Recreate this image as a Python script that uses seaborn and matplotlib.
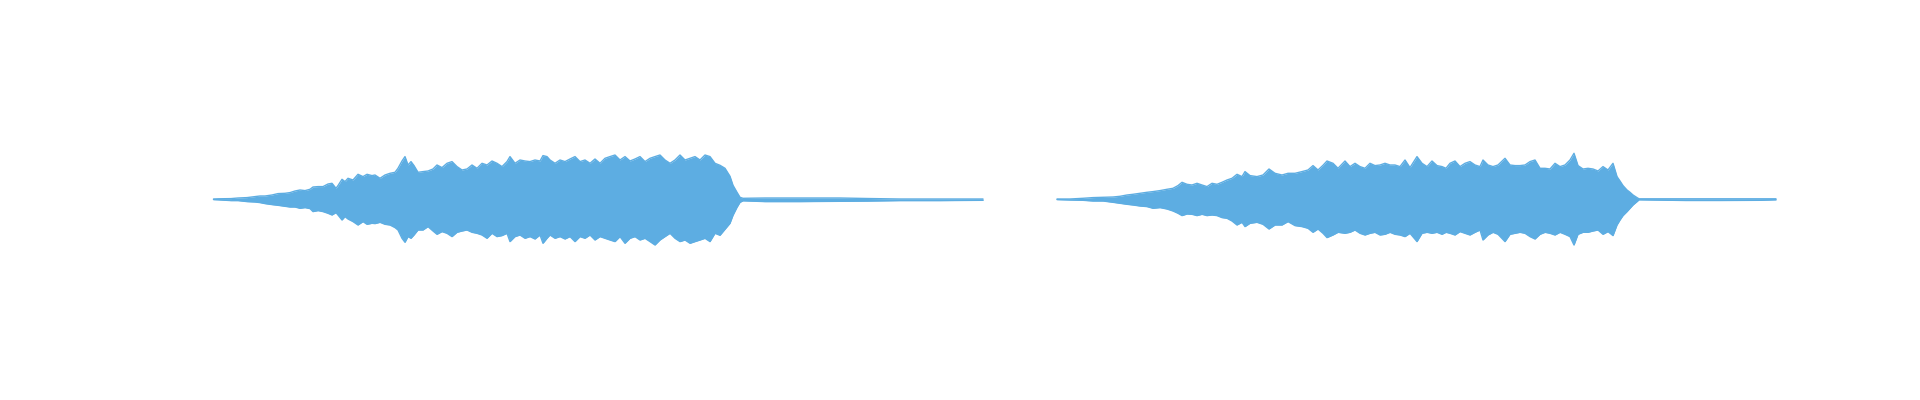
import numpy as np
import pandas as pd
import matplotlib
matplotlib.use("Agg")
import matplotlib.pyplot as plt
import seaborn as sns

# ---- data: waveform envelopes (time in px-units, amplitude in px-units) ----
left_t = [213.5, 218, 231, 238, 247, 255, 260, 265, 272, 278, 285, 290, 295, 300, 305, 310, 313, 318,
          323, 328, 332, 336, 338, 342, 345, 348, 353, 358, 363, 367, 372, 375, 380, 385, 390, 395,
          398, 402, 405, 408, 411, 414, 418, 423, 428, 433, 437, 442, 447, 452, 457, 462, 467, 472,
          477, 482, 487, 492, 497, 502, 507, 510, 515, 520, 525, 530, 535, 540, 543, 547, 550, 555,
          560, 565, 570, 575, 580, 585, 590, 595, 600, 605, 610, 615, 620, 625, 630, 635, 640, 645,
          650, 655, 660, 665, 670, 675, 680, 685, 690, 695, 700, 705, 710, 715, 720, 725, 730, 733,
          737, 740, 743, 765, 800, 840, 867, 900, 940, 983]
left_up = [0.3, 0.5, 0.7, 1.3, 1.7, 2.7, 3.3, 3.3, 4.3, 5.7, 6.0, 6.7, 8.3, 9.3, 8.7, 10.0, 12.3, 12.7,
           12.7, 15.3, 16.0, 11.0, 13.7, 20.0, 17.7, 21.0, 19.3, 25.0, 22.7, 25.0, 23.7, 24.3, 21.0, 24.3, 26.0, 27.0,
           31.0, 38.3, 42.7, 34.3, 37.7, 33.7, 27.0, 27.7, 28.3, 30.3, 34.3, 31.7, 36.0, 37.7, 32.7, 29.3, 30.3, 34.3,
           31.0, 36.0, 34.3, 38.3, 36.0, 32.7, 37.7, 42.7, 36.0, 39.3, 38.3, 37.7, 39.3, 38.3, 43.7, 42.7, 39.3, 36.0,
           39.3, 37.7, 40.3, 42.7, 37.7, 39.3, 36.0, 40.3, 36.0, 41.0, 42.7, 44.3, 39.3, 42.7, 38.3, 40.3, 42.7, 37.7,
           41.0, 42.7, 44.3, 39.3, 36.0, 39.3, 44.3, 39.3, 41.0, 42.7, 39.3, 44.3, 42.7, 36.0, 34.0, 31.0, 23.0, 14.0,
           7.0, 2.0, 1.0, 1.3, 1.3, 1.3, 0.8, 0.3, 0.3, 0.3]
left_dn = [0.3, 0.5, 1.3, 1.3, 2.3, 2.7, 3.3, 4.3, 5.3, 6.0, 7.0, 7.7, 7.7, 9.0, 8.3, 9.3, 12.3, 11.3,
           12.3, 14.0, 15.7, 13.3, 15.7, 20.7, 17.3, 19.7, 22.3, 25.7, 22.3, 25.0, 24.0, 24.3, 23.0, 25.0, 25.7, 28.3,
           30.7, 39.0, 43.0, 37.3, 39.0, 35.7, 30.7, 30.7, 27.3, 31.7, 35.0, 32.3, 34.0, 37.3, 33.0, 31.7, 30.7, 33.0,
           34.0, 35.7, 39.0, 34.0, 37.3, 36.3, 34.0, 42.3, 37.3, 35.7, 39.0, 37.3, 39.7, 35.7, 44.0, 39.0, 35.7, 39.0,
           37.3, 39.7, 37.3, 42.3, 37.3, 39.0, 35.7, 40.7, 37.3, 39.0, 40.7, 42.3, 37.3, 44.0, 39.0, 37.3, 40.7, 39.0,
           42.3, 45.7, 40.7, 37.3, 34.0, 39.0, 42.3, 40.7, 44.0, 42.3, 40.7, 39.0, 42.3, 34.0, 36.0, 30.0, 24.0, 16.0,
           8.0, 3.0, 1.5, 2.3, 2.3, 2.0, 1.8, 1.3, 1.3, 1.0]

right_t = [1057, 1070, 1083, 1093, 1103, 1113, 1120, 1127, 1133, 1140, 1147, 1153, 1160, 1167, 1173, 1178,
           1182, 1187, 1192, 1197, 1202, 1207, 1212, 1217, 1222, 1227, 1232, 1237, 1242, 1245, 1250, 1257,
           1263, 1269, 1275, 1282, 1288, 1295, 1302, 1308, 1313, 1318, 1323, 1327, 1333, 1338, 1345, 1350,
           1355, 1360, 1365, 1370, 1375, 1380, 1385, 1390, 1395, 1400, 1405, 1410, 1417, 1422, 1427, 1432,
           1437, 1442, 1446, 1450, 1455, 1460, 1465, 1470, 1475, 1480, 1483, 1488, 1493, 1498, 1505, 1510,
           1515, 1520, 1525, 1530, 1535, 1540, 1545, 1550, 1555, 1560, 1565, 1570, 1574, 1578, 1583, 1588,
           1593, 1598, 1603, 1608, 1613, 1617, 1620, 1623, 1627, 1630, 1633, 1637, 1639, 1686, 1720, 1760, 1776]
right_up = [0.3, 0.3, 1.0, 1.7, 2.0, 2.3, 3.0, 4.3, 5.0, 6.0, 7.0, 7.7, 8.7, 10.0, 11.0, 13.7,
            17.0, 15.0, 14.3, 16.0, 14.3, 12.7, 16.0, 15.0, 17.0, 19.3, 21.0, 25.0, 22.7, 27.7, 23.7, 22.7,
            24.3, 30.3, 26.0, 24.3, 26.0, 26.0, 27.7, 29.3, 33.7, 29.3, 34.0, 38.3, 36.0, 31.0, 38.3, 32.7,
            36.0, 32.7, 31.0, 36.0, 33.7, 34.3, 36.0, 34.3, 34.3, 32.7, 39.3, 31.7, 42.7, 36.0, 32.7, 38.3,
            33.7, 32.7, 31.0, 36.0, 38.3, 32.7, 36.0, 37.7, 34.3, 32.7, 39.3, 34.3, 32.7, 34.3, 41.0, 34.3,
            33.7, 33.7, 34.3, 37.7, 39.3, 31.0, 31.0, 30.3, 36.0, 32.7, 34.3, 39.3, 46.0, 33.7, 30.3, 31.0,
            30.3, 28.3, 32.7, 29.3, 36.0, 22.7, 18.3, 13.7, 9.3, 7.0, 4.3, 1.7, 0.5, 0.5, 0.5, 0.5, 0.5]
right_dn = [0.3, 0.7, 1.0, 1.7, 1.7, 3.0, 4.0, 5.0, 5.7, 6.7, 7.3, 9.0, 8.3, 9.7, 11.7, 14.0,
            16.3, 14.7, 15.0, 16.3, 15.0, 16.3, 15.7, 16.3, 18.3, 19.0, 21.7, 25.7, 23.0, 27.3, 24.0, 23.0,
            25.0, 29.7, 25.7, 25.7, 22.3, 26.3, 27.3, 29.0, 33.0, 29.7, 34.0, 38.3, 35.7, 33.0, 34.0, 33.0,
            30.7, 34.0, 35.7, 34.0, 33.0, 35.7, 35.0, 33.0, 35.0, 35.7, 37.3, 34.0, 42.3, 34.0, 33.0, 34.0,
            33.0, 35.0, 33.0, 34.0, 35.7, 32.3, 34.0, 35.7, 33.0, 30.7, 40.7, 35.7, 33.0, 35.0, 42.3, 35.0,
            34.0, 33.0, 34.0, 37.3, 39.7, 35.0, 33.0, 34.0, 35.7, 33.0, 35.0, 37.3, 45.7, 35.0, 33.0, 33.0,
            31.7, 30.7, 35.0, 32.3, 36.3, 25.7, 20.7, 16.3, 12.3, 9.0, 5.7, 2.3, 0.5, 1.2, 1.2, 1.0, 0.5]

COLOR = "#5DADE2"

sns.set_theme(style="white")
plt.rcParams["font.family"] = ["DejaVu Sans"]

fig = plt.figure(figsize=(19.2, 4.0), dpi=100)
fig.patch.set_facecolor("white")
ax = fig.add_axes([0.0, 0.0, 1.0, 1.0])

for t, up, dn in [(left_t, left_up, left_dn), (right_t, right_up, right_dn)]:
    df = pd.DataFrame({"t": t, "up": up, "dn": [-v for v in dn]})
    ax.fill_between(df["t"].to_numpy(), df["dn"].to_numpy(), df["up"].to_numpy(),
                    color=COLOR, linewidth=0)
    sns.lineplot(data=df, x="t", y="up", ax=ax, color=COLOR, linewidth=1.0,
                 estimator=None, sort=False)
    sns.lineplot(data=df, x="t", y="dn", ax=ax, color=COLOR, linewidth=1.0,
                 estimator=None, sort=False)

ax.set_xlim(0, 1920)
ax.set_ylim(-200.7, 199.3)
ax.set_axis_off()

fig.savefig("out.png", dpi=100, facecolor="white")
